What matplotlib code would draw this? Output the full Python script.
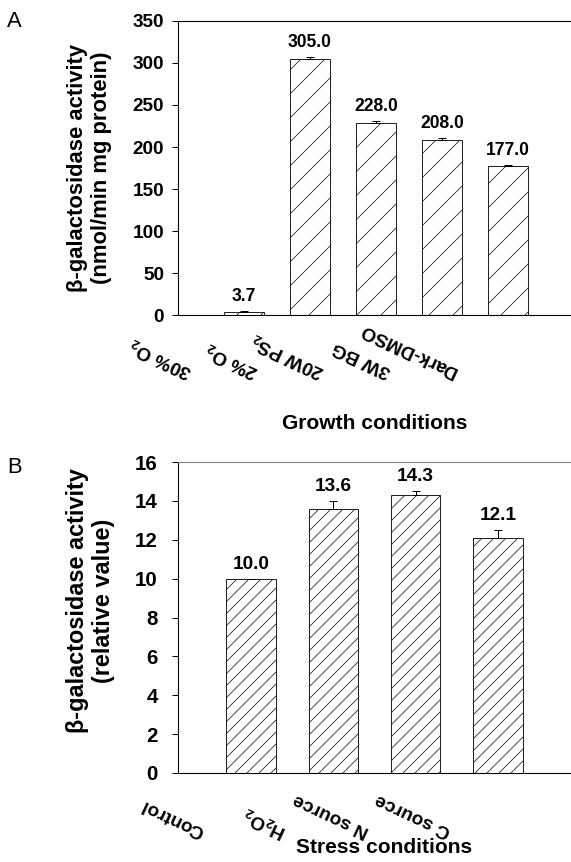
import matplotlib
matplotlib.use("Agg")
import matplotlib.pyplot as plt
import matplotlib.transforms as mtransforms

plt.rcParams['font.family'] = ['Liberation Sans', 'DejaVu Sans']
plt.rcParams['font.weight'] = 'bold'
plt.rcParams['mathtext.fontset'] = 'custom'
plt.rcParams['mathtext.rm'] = 'Liberation Sans:bold'
plt.rcParams['mathtext.bf'] = 'Liberation Sans:bold'
plt.rcParams['hatch.linewidth'] = 0.8

# panel A data
growth_labels = [r"30% O$_2$", r"2% O$_2$", r"20W PS$_2$", "3W BG", "Dark-DMSO"]
growth_values = [3.7, 305.0, 228.0, 208.0, 177.0]
growth_err = [1.0, 2.5, 3.0, 3.0, 2.0]

# panel B data
stress_labels = ["Control", r"H$_2$O$_2$", "N source", "C source"]
stress_values = [10.0, 13.6, 14.3, 12.1]
stress_err = [0.0, 0.4, 0.2, 0.4]

W, H, DPI = 571, 862, 72
fig = plt.figure(figsize=(W / DPI, H / DPI), dpi=DPI)


def px_axes(left, top, right, bottom):
    return fig.add_axes([left / W, 1 - bottom / H, (right - left) / W, (bottom - top) / H])


def draw_panel(ax, labels, values, err, hatch, xlim, ylim, yticks, ylabel, xlabel,
               fs_tick, fs_val, fs_ylab, ylab_xy, xlab_xy, lab_dx, lab_dy, ypad):
    x = list(range(len(values)))
    ax.bar(x, values, width=0.6, color='white', edgecolor='#222222', linewidth=1.0,
           hatch=hatch, zorder=2)
    ax.errorbar(x, values, yerr=[[0] * len(err), err], fmt='none', ecolor='black',
                elinewidth=1, capsize=4, capthick=1, zorder=3)
    for xi, v, e in zip(x, values, err):
        ax.annotate("%.1f" % v, (xi, v + e), xytext=(0, 6), textcoords='offset points',
                    ha='center', va='bottom', fontsize=fs_val, fontweight='bold')
    ax.set_xlim(*xlim)
    ax.set_ylim(*ylim)
    ax.set_yticks(yticks)
    ax.set_xticks(x)
    ax.set_xticklabels([])
    ax.tick_params(axis='x', length=0)
    ax.tick_params(axis='y', direction='out', length=6, width=1, pad=ypad, labelsize=fs_tick)
    for lab in ax.get_yticklabels():
        lab.set_fontweight('bold')
    ax.spines['right'].set_visible(False)
    for s in ['left', 'top', 'bottom']:
        ax.spines[s].set_linewidth(1.1)
    ax.set_ylabel(ylabel, fontsize=fs_ylab, fontweight='bold')
    ax.yaxis.set_label_coords(*ylab_xy)
    ax.set_xlabel(xlabel, fontsize=21, fontweight='bold')
    ax.xaxis.set_label_coords(*xlab_xy)
    trans = mtransforms.blended_transform_factory(ax.transData, ax.transAxes) + \
        mtransforms.ScaledTranslation(lab_dx / DPI, lab_dy / DPI, fig.dpi_scale_trans)
    for xi, lab in zip(x, labels):
        ax.text(xi, 0, lab, transform=trans, rotation=155, rotation_mode='anchor',
                ha='left', va='center', fontsize=19, fontweight='bold', clip_on=False)


axA = px_axes(178, 21, 571, 315)
draw_panel(axA, growth_labels, growth_values, growth_err, '/',
           (-1.0, 4.955), (0, 350), range(0, 351, 50),
           "\u03b2-galactosidase activity\n(nmol/min mg protein)", "Growth conditions",
           19, 17.5, 22, (-0.168, 0.5), (0.5, -0.337), -52, -57, 8)

axB = px_axes(178, 462, 571, 773)
draw_panel(axB, stress_labels, stress_values, stress_err, '//',
           (-0.887, 3.888), (0, 16), range(0, 17, 2),
           "\u03b2-galactosidase activity\n(relative value)", "Stress conditions",
           20.5, 19, 23.5, (-0.160, 0.553), (0.524, -0.209), -48, -59, 14)
axB.spines['top'].set_color('#808080')

fig.text(7 / W, 1 - 27 / H, "A", fontsize=22, fontweight='normal', va='baseline')
fig.text(7 / W, 1 - 473 / H, "B", fontsize=22, fontweight='normal', va='baseline')

fig.savefig("out.png", dpi=DPI)
